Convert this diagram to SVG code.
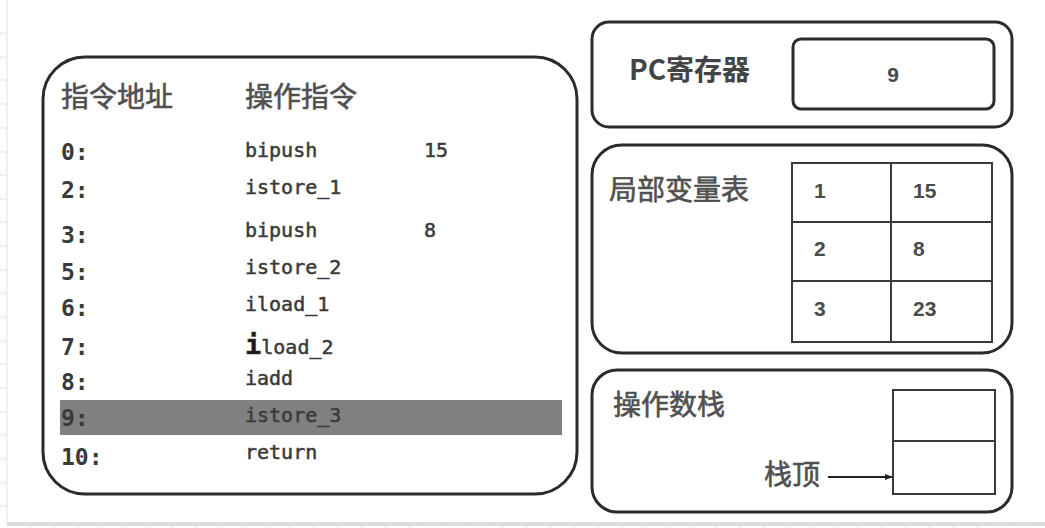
<svg xmlns="http://www.w3.org/2000/svg" width="1045" height="528" viewBox="0 0 1045 528">
  <style>
    .box { fill: #ffffff; stroke: #2b2b2b; stroke-width: 3; }
    .cell { fill: #ffffff; stroke: #3a3a3a; stroke-width: 2; }
    .cjk { font-family: "Noto Sans CJK SC", "Noto Sans", sans-serif; font-size: 28px; fill: #505050; stroke: #505050; stroke-width: 0.6; }
    .cjkb { font-family: "Noto Sans CJK SC", "Noto Sans", sans-serif; font-size: 28px; fill: #444444; font-weight: bold; }
    .addr { font-family: "DejaVu Sans Mono", "Liberation Mono", monospace; font-size: 23px; font-weight: bold; fill: #3a3a3a; }
    .ins { font-family: "DejaVu Sans Mono", "Liberation Mono", monospace; font-size: 20px; fill: #3a3a3a; stroke: #3a3a3a; stroke-width: 0.5; }
    .num { font-family: "Liberation Sans", "Noto Sans", sans-serif; font-size: 21px; font-weight: bold; fill: #4a4a4a; }
    .grid { stroke: #e2e2e2; stroke-width: 1; }
  </style>
  <defs>
    <marker id="arrow" viewBox="0 0 10 10" refX="9" refY="5" markerWidth="8" markerHeight="8" markerUnits="userSpaceOnUse" orient="auto">
      <path d="M0,1 L10,5 L0,9 Z" fill="#222222"/>
    </marker>
  </defs>
  <rect x="0" y="0" width="1045" height="528" fill="#ffffff"/>
  <g id="background-grid">
    <line class="grid" x1="7" y1="0" x2="7" y2="522"/>
    <path class="grid" d="M0,33H7M0,57H7M0,80H7M0,104H7M0,128H7M0,152H7M0,175H7M0,199H7M0,222H7M0,246H7M0,270H7M0,293H7M0,317H7M0,341H7M0,364H7M0,388H7M0,412H7M0,435H7M0,459H7M0,483H7M0,506H7"/>
    <rect x="7" y="522" width="1038" height="4" fill="#dddddd"/>
    <path class="grid" d="M30,526V528M54,526V528M78,526V528M101,526V528M125,526V528M149,526V528M172,526V528M196,526V528M219,526V528M243,526V528M267,526V528M290,526V528M314,526V528M338,526V528M361,526V528M385,526V528M409,526V528M432,526V528M456,526V528M480,526V528M503,526V528M527,526V528M551,526V528M574,526V528M598,526V528M622,526V528M645,526V528M669,526V528M693,526V528M716,526V528M740,526V528M764,526V528M787,526V528M811,526V528M835,526V528M858,526V528M882,526V528M906,526V528M929,526V528M953,526V528M977,526V528M1000,526V528M1024,526V528"/>
  </g>

  <g id="instructions">
    <rect class="box" x="43" y="57" width="534" height="437" rx="42" ry="42"/>
    <text class="cjk" x="61" y="107">指令地址</text>
    <text class="cjk" x="245" y="107">操作指令</text>
    <rect x="60" y="400" width="502" height="35" fill="#808080"/>
    <text class="addr" x="61" y="160">0:</text>
    <text class="addr" x="61" y="198">2:</text>
    <text class="addr" x="61" y="243">3:</text>
    <text class="addr" x="61" y="280">5:</text>
    <text class="addr" x="61" y="316">6:</text>
    <text class="addr" x="61" y="355">7:</text>
    <text class="addr" x="61" y="390">8:</text>
    <text class="addr" x="61" y="426">9:</text>
    <text class="addr" x="61" y="465">10:</text>
    <text class="ins" x="245" y="157">bipush</text>
    <text class="ins" x="424" y="157">15</text>
    <text class="ins" x="245" y="194">istore_1</text>
    <text class="ins" x="245" y="237">bipush</text>
    <text class="ins" x="424" y="237">8</text>
    <text class="ins" x="245" y="274">istore_2</text>
    <text class="ins" x="245" y="311">iload_1</text>
    <text class="ins" x="245" y="354"><tspan font-size="27" font-weight="bold" fill="#1a1a1a">i</tspan>load_2</text>
    <text class="ins" x="245" y="385">iadd</text>
    <text class="ins" x="245" y="422" fill="#2a2a2a" stroke="#2a2a2a">istore_3</text>
    <text class="ins" x="245" y="459">return</text>
  </g>

  <g id="pc-register">
    <rect class="box" x="592" y="22" width="420" height="105" rx="17" ry="17"/>
    <text class="cjkb" x="629" y="80">PC寄存器</text>
    <rect class="box" x="793" y="39" width="201" height="70" rx="8" ry="8"/>
    <text class="num" x="893" y="82" text-anchor="middle" font-size="20">9</text>
  </g>

  <g id="local-variables">
    <rect class="box" x="592" y="145" width="420" height="208" rx="30" ry="30"/>
    <text class="cjk" x="609" y="200">局部变量表</text>
    <rect class="cell" x="792" y="163" width="200" height="179"/>
    <line class="cell" x1="891" y1="163" x2="891" y2="342"/>
    <line class="cell" x1="792" y1="222" x2="992" y2="222"/>
    <line class="cell" x1="792" y1="281" x2="992" y2="281"/>
    <text class="num" x="814" y="198">1</text>
    <text class="num" x="913" y="198">15</text>
    <text class="num" x="814" y="256">2</text>
    <text class="num" x="913" y="256">8</text>
    <text class="num" x="814" y="316">3</text>
    <text class="num" x="913" y="316">23</text>
  </g>

  <g id="operand-stack">
    <rect class="box" x="592" y="370" width="420" height="142" rx="25" ry="25"/>
    <text class="cjk" x="613" y="415">操作数栈</text>
    <rect class="cell" x="893" y="390" width="102" height="104"/>
    <line class="cell" x1="893" y1="441" x2="995" y2="441"/>
    <text class="cjk" x="764" y="485">栈顶</text>
  </g>

  <g id="connectors">
    <line x1="828" y1="477" x2="892" y2="477" stroke="#222222" stroke-width="2" marker-end="url(#arrow)"/>
  </g>
</svg>
